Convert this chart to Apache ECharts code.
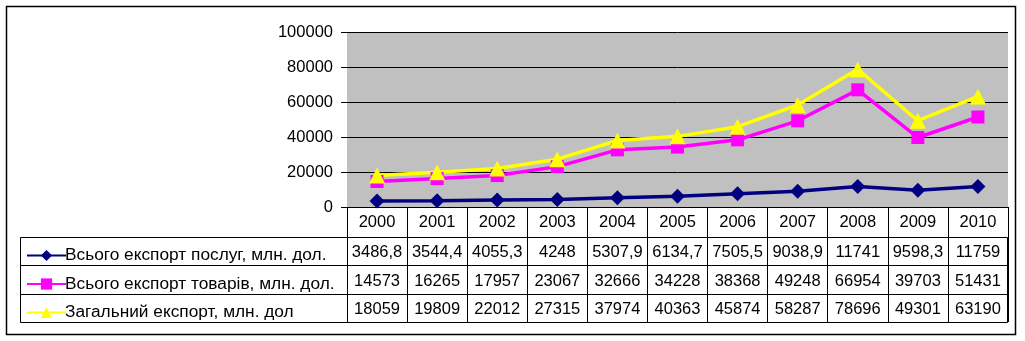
<!DOCTYPE html>
<html>
<head>
<meta charset="utf-8">
<script src="https://cdn.jsdelivr.net/npm/echarts@6/dist/echarts.min.js"></script>
<style>
  html, body { margin: 0; padding: 0; background: #ffffff; }
  #chart { width: 1025px; height: 341px; }
</style>
</head>
<body>
<div id="chart"></div>
<script>
// Export of Ukraine, 2000–2010
const years = ['2000', '2001', '2002', '2003', '2004', '2005', '2006', '2007', '2008', '2009', '2010'];
const services = [3486.8, 3544.4, 4055.3, 4248, 5307.9, 6134.7, 7505.5, 9038.9, 11741, 9598.3, 11759];
const goods = [14573, 16265, 17957, 23067, 32666, 34228, 38368, 49248, 66954, 39703, 51431];
const total = [18059, 19809, 22012, 27315, 37974, 40363, 45874, 58287, 78696, 49301, 63190];
const seriesNames = [
  'Всього експорт послуг, млн. дол.',
  'Всього експорт товарів, млн. дол.',
  'Загальний експорт, млн. дол'
];
const yTicks = { min: 0, max: 100000, interval: 20000 };

const FONT = "'Liberation Sans', Arial, sans-serif";
const fmt = v => String(v).replace('.', ',');

// data-table row that sits under the plot, one category axis per row
function tableRow(values, offset) {
  return {
    type: 'category',
    data: years,
    position: 'bottom',
    offset: offset,
    gridIndex: 0,
    axisLine: { show: false },
    axisTick: { show: false },
    splitLine: { show: false },
    axisLabel: {
      interval: 0,
      hideOverlap: false,
      margin: 7,
      color: '#000',
      fontSize: 16.5,
      fontFamily: FONT,
      formatter: (val, idx) => fmt(values[idx])
    }
  };
}

const chart = echarts.init(document.getElementById('chart'), null, { renderer: 'canvas' });

chart.setOption({
  animation: false,
  backgroundColor: '#ffffff',
  textStyle: { fontFamily: FONT },
  grid: {
    left: 347, right: 17, top: 32, bottom: 134,
    show: true, backgroundColor: '#c0c0c0', borderWidth: 0
  },
  legend: {
    orient: 'vertical',
    left: 21,
    top: 242,
    itemWidth: 39,
    itemHeight: 14,
    itemGap: 11.5,
    textStyle: {
      fontSize: 17.3, color: '#000', fontFamily: FONT, lineHeight: 17,
      padding: [0, 0, 0, -6]
    },
    data: seriesNames
  },
  xAxis: [
    {
      type: 'category',
      data: years,
      boundaryGap: true,
      position: 'bottom',
      axisLine: { show: true, lineStyle: { color: '#000', width: 1 } },
      axisTick: { show: true, length: 115, lineStyle: { color: '#000', width: 1 } },
      axisLabel: { interval: 0, margin: 7, color: '#000', fontSize: 16.5, fontFamily: FONT },
      splitLine: { show: false }
    },
    tableRow(services, 30),
    tableRow(goods, 59),
    tableRow(total, 87)
  ],
  yAxis: {
    type: 'value',
    min: yTicks.min,
    max: yTicks.max,
    interval: yTicks.interval,
    axisLine: { show: false },
    axisTick: { show: true, length: 6, lineStyle: { color: '#000' } },
    axisLabel: {
      margin: 14, color: '#000', fontSize: 16.5, fontFamily: FONT,
      formatter: v => String(v)
    },
    splitLine: { show: true, lineStyle: { color: '#000', width: 1 } }
  },
  series: [
    {
      name: seriesNames[0], type: 'line', data: services,
      symbol: 'diamond', symbolSize: 15,
      itemStyle: { color: '#000080' },
      lineStyle: { color: '#000080', width: 3.5 }
    },
    {
      name: seriesNames[1], type: 'line', data: goods,
      symbol: 'rect', symbolSize: 13,
      itemStyle: { color: '#ff00ff' },
      lineStyle: { color: '#ff00ff', width: 3.5 }
    },
    {
      name: seriesNames[2], type: 'line', data: total,
      symbol: 'triangle', symbolSize: 16,
      itemStyle: { color: '#ffff00' },
      lineStyle: { color: '#ffff00', width: 3.5 }
    }
  ],
  graphic: [
    // outer frame
    { type: 'rect', shape: { x: 6.5, y: 6.5, width: 1009, height: 328 },
      style: { fill: null, stroke: '#000', lineWidth: 1.5 }, z: 10 },
    // legend column and row rules of the data table
    { type: 'rect', shape: { x: 20.5, y: 237.5, width: 987, height: 85 },
      style: { fill: null, stroke: '#000', lineWidth: 1 }, z: 10 },
    { type: 'line', shape: { x1: 20.5, y1: 265.5, x2: 1007.5, y2: 265.5 },
      style: { stroke: '#000', lineWidth: 1 }, z: 10 },
    { type: 'line', shape: { x1: 20.5, y1: 294.5, x2: 1007.5, y2: 294.5 },
      style: { stroke: '#000', lineWidth: 1 }, z: 10 }
  ]
});
</script>
</body>
</html>
